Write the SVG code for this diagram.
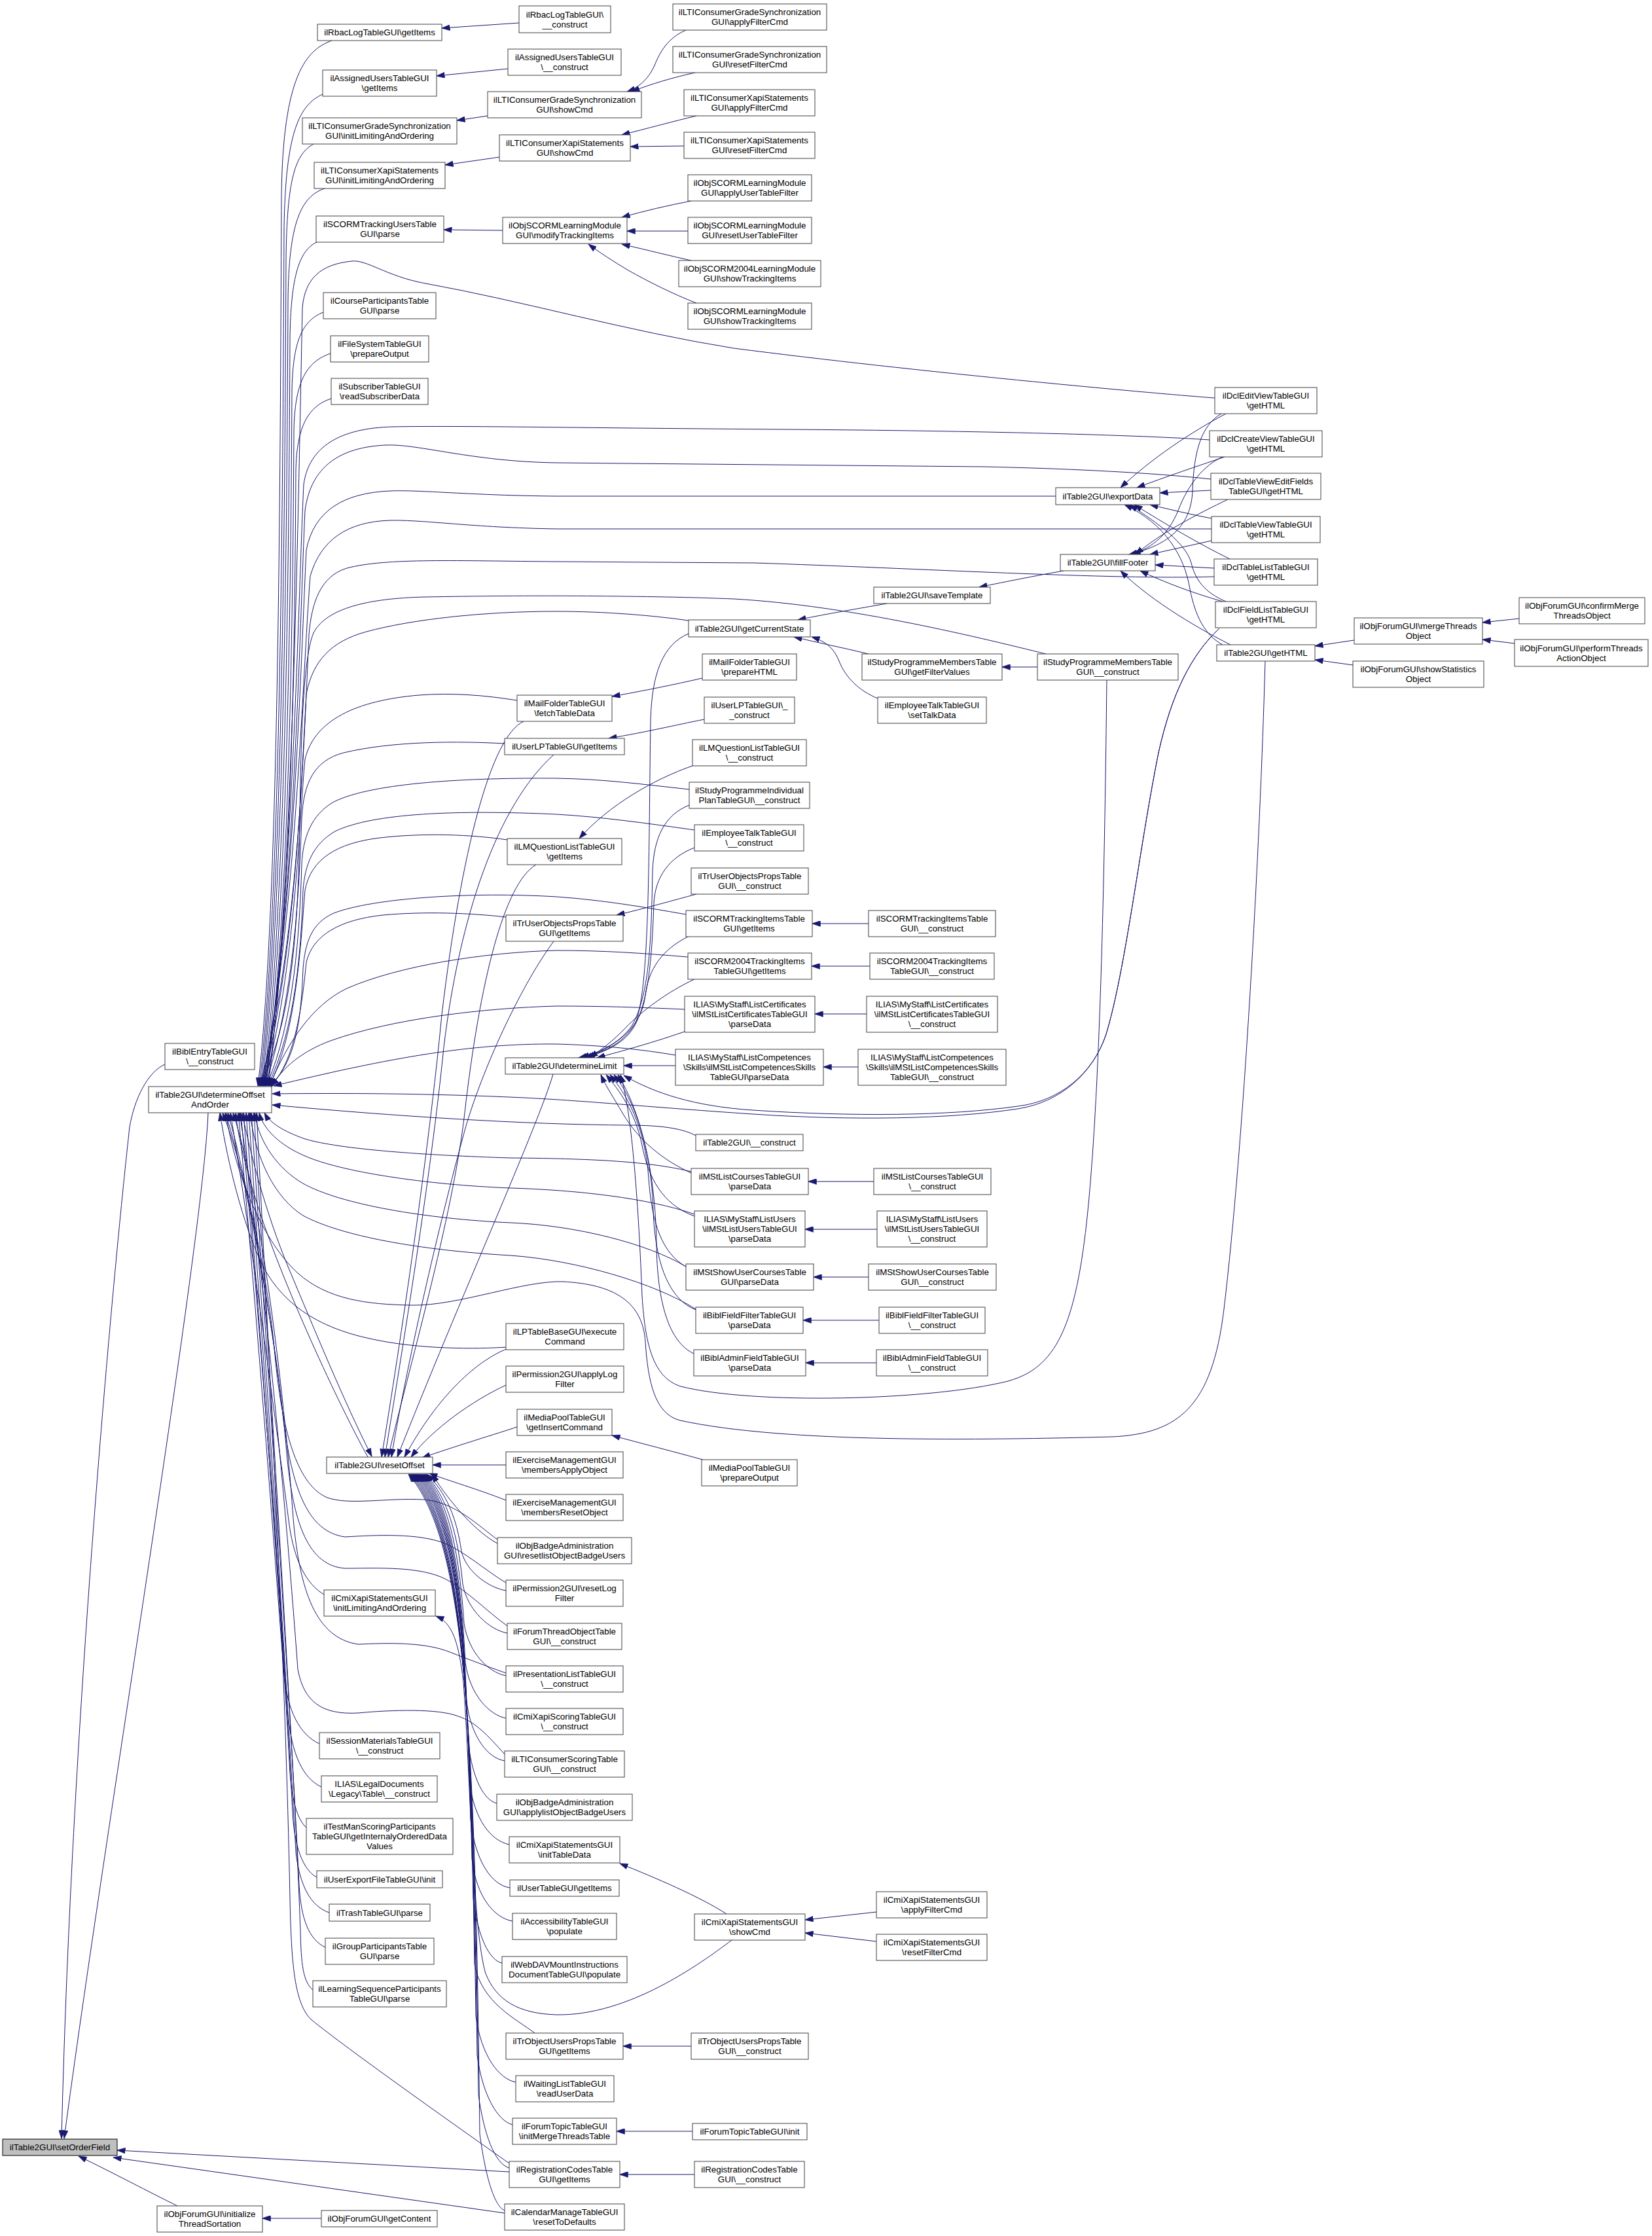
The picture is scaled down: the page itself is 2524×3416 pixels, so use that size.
<svg xmlns="http://www.w3.org/2000/svg" width="2524" height="3416" viewBox="0 0 2524 3416">
<style>
.n rect{fill:#fff;stroke:#404040;stroke-width:1}
.n text{font-family:"Liberation Sans",Arial,Helvetica,sans-serif;font-size:13.33px;text-anchor:middle;fill:#000}
#edges path{fill:none;stroke:#191970;stroke-width:1;marker-end:url(#ah)}
</style>
<defs>
<marker id="ah" viewBox="0 0 13 9" markerWidth="13" markerHeight="9" refX="12.5" refY="4.5" orient="auto" markerUnits="userSpaceOnUse"><path d="M0,0 L13,4.5 L0,9 z" fill="#191970" stroke="#191970" stroke-width="0.5"/></marker>
</defs>
<rect width="2524" height="3416" fill="#fff"/>
<g id="edges">
<path d="M252,1626 C225,1638 205,1680 198,1722 C178,1900 110,2600 94,3267"/>
<path d="M318,1700 C310,1900 160,2800 98,3267"/>
<path d="M271,3370 C230,3350 170,3318 120,3294"/>
<path d="M778,3318 L179,3285"/>
<path d="M771,3381 L173,3296"/>
<path d="M491,3389 L401,3389"/>
<path d="M507,62 C468,76 432,115 430,300 C428,800 425,1400 394,1659"/>
<path d="M493,144 C458,160 436,200 434,350 C432,800 428,1400 396,1659"/>
<path d="M479,220 C452,235 438,270 437,400 C435,850 430,1400 398,1659"/>
<path d="M496,288 C460,300 441,340 440,460 C438,900 432,1400 400,1659"/>
<path d="M484,370 C458,382 444,420 443,520 C441,950 434,1420 402,1659"/>
<path d="M494,477 C462,490 447,520 446,600 C444,1000 436,1430 404,1659"/>
<path d="M505,540 C470,552 450,580 449,660 C447,1050 438,1440 406,1659"/>
<path d="M506,609 C472,620 453,650 452,720 C450,1100 440,1450 408,1659"/>
<path d="M1856,608 C1750,600 1400,568 1121,532 C958,506 800,460 650,433 C590,422 560,396 537,399 C490,404 466,425 462,470 C456,750 448,1350 410,1659"/>
<path d="M1848,672 C1750,665 1500,658 1200,656 C900,654 700,650 600,652 C520,654 472,682 464,740 C456,900 448,1380 405,1659"/>
<path d="M1850,732 C1780,724 1650,716 1500,713 L850,707 C720,705 640,678 590,680 C520,683 475,712 466,780 C458,950 450,1400 403,1659"/>
<path d="M1613,758 L850,758 C720,757 640,748 596,750 C525,753 480,780 468,840 C460,1000 450,1400 401,1659"/>
<path d="M1851,808 L850,808 C720,806 650,794 596,795 C530,797 490,825 474,880 C462,1030 452,1420 399,1659"/>
<path d="M1855,881 C1700,886 1400,868 1153,860 L850,858 C700,857 590,852 530,868 C490,880 476,920 472,970 C464,1150 454,1450 397,1659"/>
<path d="M1598,999 C1500,975 1300,925 1121,915 C1000,910 800,909 650,912 C560,914 500,930 480,965 C465,995 460,1100 458,1250 C456,1450 440,1580 395,1659"/>
<path d="M1058,949 C1000,940 920,934 850,934 C740,934 630,946 560,965 C505,980 478,1010 468,1060 C460,1200 452,1450 401,1659"/>
<path d="M790,1070 C740,1062 690,1058 640,1062 C545,1070 480,1100 466,1160 C457,1250 452,1480 403,1659"/>
<path d="M771,1136 C700,1132 600,1132 525,1150 C480,1162 464,1195 461,1250 C457,1360 450,1520 405,1659"/>
<path d="M1053,1206 C980,1198 920,1190 850,1189 C720,1188 570,1195 510,1225 C475,1245 463,1280 461,1320 C458,1420 450,1560 407,1659"/>
<path d="M1061,1268 C990,1258 920,1248 850,1244 C700,1237 570,1242 512,1270 C478,1290 466,1320 463,1360 C460,1450 452,1570 409,1659"/>
<path d="M775,1283 C720,1275 650,1272 580,1280 C515,1288 475,1312 466,1360 C460,1430 454,1580 411,1659"/>
<path d="M1048,1397 C980,1385 920,1375 850,1370 C720,1362 570,1372 510,1395 C476,1410 466,1440 463,1480 C460,1560 452,1620 413,1659"/>
<path d="M773,1401 C720,1395 650,1392 585,1398 C520,1405 478,1428 468,1470 C462,1530 452,1620 414,1659"/>
<path d="M1051,1462 C980,1456 920,1452 850,1452 C740,1455 610,1475 530,1510 C478,1535 440,1590 412,1659"/>
<path d="M1046,1542 C980,1539 920,1537 850,1537 C740,1540 600,1556 505,1590 C462,1606 432,1630 414,1661"/>
<path d="M1032,1612 C980,1603 920,1597 850,1595 C720,1594 600,1615 418,1659"/>
<path d="M1065,1736 C1045,1724 1010,1719 960,1719 C800,1718 600,1705 416,1688"/>
<path d="M1863,960 C1820,1000 1790,1060 1770,1150 C1740,1300 1720,1480 1690,1580 C1670,1640 1620,1684 1555,1694 C1450,1710 1300,1712 1150,1702 C1000,1692 900,1682 800,1677 C650,1670 520,1670 416,1671"/>
<path d="M1056,1790 C1000,1776 920,1770 780,1769 C650,1765 520,1756 466,1740 C432,1728 412,1715 404,1700"/>
<path d="M1061,1855 C990,1830 880,1818 780,1815 C650,1810 520,1790 466,1766 C428,1750 402,1725 396,1700"/>
<path d="M1048,1935 C990,1900 880,1872 780,1868 C650,1862 520,1840 463,1808 C425,1786 395,1745 389,1700"/>
<path d="M1063,2000 C1000,1960 880,1925 780,1918 C640,1910 520,1888 463,1857 C420,1830 390,1770 382,1700"/>
<path d="M1933,1010 C1925,1300 1900,1750 1870,2000 C1852,2150 1800,2190 1700,2195 C1500,2200 1200,2205 1039,2170 C1000,2160 990,2110 986,2050 C982,1990 940,1962 860,1958 C800,1956 700,1995 630,1994 C560,1993 500,1985 455,1945 C405,1900 360,1800 345,1700"/>
<path d="M775,2058 C730,2061 640,2062 565,2045 C485,2028 425,1990 395,1920 C365,1850 345,1760 336,1700"/>
<path d="M562,2226 C520,2150 430,1960 390,1830 C375,1780 364,1740 360,1700"/>
<path d="M370,1700 C382,1760 405,1850 440,1935 C480,2030 525,2140 568,2225"/>
<path d="M495,2436 C468,2420 450,2385 442,2330 C425,2200 385,1900 352,1700"/>
<path d="M488,2664 C458,2650 440,2615 434,2560 C420,2380 392,2000 364,1700"/>
<path d="M491,2730 C462,2716 446,2680 440,2620 C428,2440 398,2040 368,1700"/>
<path d="M468,2792 C452,2778 444,2740 442,2690 C432,2500 402,2100 372,1700"/>
<path d="M484,2868 C462,2856 450,2820 447,2770 C436,2550 406,2120 376,1700"/>
<path d="M503,2922 C474,2912 458,2880 452,2830 C440,2600 410,2140 380,1700"/>
<path d="M497,2975 C472,2963 460,2932 457,2880 C446,2650 414,2160 384,1700"/>
<path d="M478,3040 C463,3028 460,3000 459,2950 C450,2700 418,2200 388,1700"/>
<path d="M778,3305 C700,3250 530,3130 475,3085 C450,3060 445,3000 443,2900 C436,2550 415,2150 392,1700"/>
<path d="M760,2352 C732,2332 695,2294 647,2291 C590,2288 535,2300 500,2288 C458,2270 432,2200 420,2070 C408,1930 365,1760 340,1700"/>
<path d="M773,2418 C740,2398 712,2372 680,2358 C640,2342 575,2345 527,2348 C472,2340 446,2280 432,2160 C418,2020 372,1780 344,1700"/>
<path d="M775,2484 C742,2460 716,2432 682,2413 C642,2392 575,2396 527,2396 C472,2392 448,2330 438,2220 C425,2060 378,1800 348,1700"/>
<path d="M773,2556 C742,2545 716,2535 690,2525 C650,2508 592,2510 547,2512 C482,2502 458,2430 448,2320 C434,2120 396,1820 356,1700"/>
<path d="M771,2680 C746,2652 726,2630 700,2622 C670,2610 600,2612 547,2617 C492,2620 464,2600 455,2550 C444,2400 412,2000 366,1700"/>
<path d="M800,1102 C750,1125 705,1300 675,1550 C655,1760 612,2050 583,2226"/>
<path d="M846,1153 C760,1230 702,1400 678,1600 C658,1800 615,2060 588,2226"/>
<path d="M819,1321 C770,1350 733,1500 710,1700 C692,1860 622,2100 593,2226"/>
<path d="M846,1438 C800,1500 742,1620 712,1720 C676,1850 624,2070 598,2226"/>
<path d="M845,1641 C822,1720 702,1985 607,2226"/>
<path d="M776,2060 C730,2078 670,2130 618,2226"/>
<path d="M773,2116 C722,2140 662,2182 628,2226"/>
<path d="M790,2180 C760,2190 700,2208 645,2227"/>
<path d="M773,2238 L661,2238"/>
<path d="M773,2292 C730,2275 685,2262 656,2251"/>
<path d="M760,2358 C730,2342 690,2300 660,2252"/>
<path d="M773,2430 C745,2425 712,2400 705,2370 C698,2320 682,2280 652,2252"/>
<path d="M775,2495 C748,2490 714,2460 707,2420 C700,2350 686,2290 650,2252"/>
<path d="M773,2560 C746,2555 716,2525 709,2480 C702,2380 688,2295 648,2252"/>
<path d="M773,2625 C748,2620 718,2590 711,2540 C704,2410 690,2300 646,2252"/>
<path d="M771,2690 C746,2686 720,2655 713,2600 C706,2430 692,2305 644,2252"/>
<path d="M759,2755 C740,2750 722,2720 715,2660 C708,2450 694,2310 642,2252"/>
<path d="M778,2818 C750,2812 724,2780 717,2720 C710,2470 696,2315 640,2252"/>
<path d="M779,2884 C752,2880 726,2845 719,2780 C712,2490 698,2320 638,2252"/>
<path d="M783,2935 C756,2930 728,2900 721,2840 C714,2510 700,2325 636,2252"/>
<path d="M767,2999 C748,2995 730,2960 723,2900 C716,2530 702,2330 634,2252"/>
<path d="M817,3106 C790,3085 735,3060 725,3000 C718,2560 704,2335 632,2252"/>
<path d="M788,3181 C762,3176 735,3140 727,3080 C720,2580 706,2340 630,2252"/>
<path d="M783,3246 C760,3240 737,3200 729,3140 C722,2600 708,2345 628,2252"/>
<path d="M778,3312 C756,3306 739,3260 731,3200 C724,2620 710,2350 626,2252"/>
<path d="M771,3377 C754,3370 741,3320 733,3260 C726,2640 712,2355 624,2252"/>
<path d="M793,35 L675,43"/>
<path d="M776,105 L667,116"/>
<path d="M745,177 L698,184"/>
<path d="M763,240 L680,252"/>
<path d="M768,352 L678,351"/>
<path d="M1048,46 C1020,58 1008,80 1000,100 C990,122 975,134 958,140"/>
<path d="M1062,111 C1030,118 995,128 965,140"/>
<path d="M1064,177 C1030,185 990,196 950,206"/>
<path d="M1045,223 L963,224"/>
<path d="M1056,307 C1020,314 985,322 950,332"/>
<path d="M1051,353 L958,353"/>
<path d="M1056,398 C1020,390 985,381 950,373"/>
<path d="M1064,463 C1030,450 990,430 960,413 C935,398 915,385 899,373"/>
<path d="M1073,1036 C1030,1046 980,1056 935,1064"/>
<path d="M1076,1099 C1030,1108 990,1118 930,1128"/>
<path d="M1058,1170 C1000,1190 930,1230 885,1281"/>
<path d="M1064,1366 C1030,1375 985,1388 942,1398"/>
<path d="M1327,1411 L1241,1411"/>
<path d="M1329,1476 L1240,1476"/>
<path d="M1324,1549 L1245,1549"/>
<path d="M1311,1630 L1258,1630"/>
<path d="M1335,1805 L1235,1805"/>
<path d="M1340,1878 L1230,1878"/>
<path d="M1327,1951 L1243,1951"/>
<path d="M1343,2017 L1227,2017"/>
<path d="M1339,2082 L1231,2082"/>
<path d="M1074,2230 C1030,2218 980,2205 935,2193"/>
<path d="M1110,2924 C1070,2898 1000,2868 947,2847"/>
<path d="M1118,2964 C1070,3000 960,3080 850,3078 C790,3076 758,3055 742,3015 C722,2950 718,2700 708,2570 C700,2500 688,2478 666,2469"/>
<path d="M1339,2921 L1230,2933"/>
<path d="M1339,2966 L1230,2953"/>
<path d="M1056,3126 L952,3126"/>
<path d="M1058,3256 L942,3256"/>
<path d="M1061,3322 L947,3322"/>
<path d="M1355,922 C1310,930 1262,938 1219,947"/>
<path d="M1327,999 C1290,990 1250,982 1213,973"/>
<path d="M1341,1067 C1312,1055 1292,1035 1282,1010 C1274,990 1262,980 1240,973"/>
<path d="M1625,872 C1580,880 1540,888 1496,897"/>
<path d="M1585,1019 L1531,1019"/>
<path d="M1052,968 C1012,985 996,1030 994,1100 C991,1300 993,1500 972,1560 C952,1600 912,1610 884,1616"/>
<path d="M1053,1230 C1015,1245 999,1280 997,1330 C995,1450 991,1520 966,1566 C946,1596 912,1608 888,1616"/>
<path d="M1061,1295 C1022,1310 1001,1340 999,1380 C996,1470 990,1532 968,1570 C950,1598 918,1609 892,1616"/>
<path d="M1053,1430 C1012,1450 991,1480 986,1520 C981,1560 958,1590 896,1616"/>
<path d="M1061,1496 C1020,1515 980,1545 956,1570 C937,1590 918,1604 901,1616"/>
<path d="M1046,1576 C1000,1592 950,1606 912,1616"/>
<path d="M1032,1628 L953,1628"/>
<path d="M1863,960 C1820,1000 1790,1060 1770,1150 C1740,1300 1720,1480 1690,1580 C1670,1640 1620,1682 1555,1690 C1450,1705 1300,1706 1150,1696 C1060,1690 1000,1670 953,1643"/>
<path d="M1691,1039 C1688,1300 1682,1650 1662,1850 C1644,2030 1612,2090 1540,2110 C1420,2140 1150,2146 1040,2118 C1000,2105 986,2060 981,1980 C976,1850 966,1700 948,1642"/>
<path d="M1056,1792 C1012,1772 976,1742 952,1702 C937,1676 926,1660 918,1642"/>
<path d="M1061,1858 C1012,1840 991,1800 981,1750 C971,1700 946,1665 926,1642"/>
<path d="M1048,1935 C1012,1915 996,1870 991,1800 C986,1720 956,1670 932,1642"/>
<path d="M1063,2001 C1022,1985 1001,1930 998,1850 C995,1740 962,1670 938,1642"/>
<path d="M1060,2068 C1022,2050 1004,1990 1003,1900 C1001,1760 966,1676 944,1642"/>
<path d="M1873,632 C1820,660 1760,700 1712,745"/>
<path d="M1871,698 C1830,712 1782,728 1737,745"/>
<path d="M1850,749 L1772,753"/>
<path d="M1851,792 C1820,786 1790,779 1757,771"/>
<path d="M1879,854 C1830,830 1780,800 1733,771"/>
<path d="M1873,919 C1840,905 1826,885 1820,860 C1812,830 1770,800 1726,771"/>
<path d="M1868,985 C1840,970 1826,940 1818,900 C1810,850 1780,800 1718,771"/>
<path d="M1866,632 C1835,650 1824,690 1822,750 C1820,800 1790,832 1725,847"/>
<path d="M1868,698 C1840,710 1815,740 1800,780 C1786,815 1762,836 1730,847"/>
<path d="M1876,763 C1830,785 1772,815 1735,847"/>
<path d="M1851,826 L1757,847"/>
<path d="M1855,868 L1765,863"/>
<path d="M1868,919 C1820,905 1780,890 1742,872"/>
<path d="M1880,985 C1840,965 1760,920 1712,872"/>
<path d="M2069,978 L2009,987"/>
<path d="M2067,1016 L2009,1008"/>
<path d="M2321,945 L2265,951"/>
<path d="M2314,983 L2265,977"/>
</g>
<g id="nodes">
<g id="n_setOrderField" class="n"><rect x="4" y="3268" width="175" height="25" style="fill:#bfbfbf;stroke:#000"/><text x="91.5" y="3285">ilTable2GUI\setOrderField</text></g>
<g id="n_bibl" class="n"><rect x="252" y="1594" width="137" height="40"/><text x="320.5" y="1611">ilBiblEntryTableGUI</text><text x="320.5" y="1626">\__construct</text></g>
<g id="n_det" class="n"><rect x="227" y="1660" width="188" height="40"/><text x="321" y="1677">ilTable2GUI\determineOffset</text><text x="321" y="1692">AndOrder</text></g>
<g id="n_init" class="n"><rect x="240" y="3370" width="161" height="40"/><text x="320.5" y="3387">ilObjForumGUI\initialize</text><text x="320.5" y="3402">ThreadSortation</text></g>
<g id="n_rbacget" class="n"><rect x="485" y="37" width="190" height="25"/><text x="580" y="54">ilRbacLogTableGUI\getItems</text></g>
<g id="n_assget" class="n"><rect x="493" y="107" width="174" height="40"/><text x="580" y="124">ilAssignedUsersTableGUI</text><text x="580" y="139">\getItems</text></g>
<g id="n_gsinit" class="n"><rect x="462" y="180" width="236" height="40"/><text x="580" y="197">ilLTIConsumerGradeSynchronization</text><text x="580" y="212">GUI\initLimitingAndOrdering</text></g>
<g id="n_xinit" class="n"><rect x="480" y="248" width="200" height="40"/><text x="580" y="265">ilLTIConsumerXapiStatements</text><text x="580" y="280">GUI\initLimitingAndOrdering</text></g>
<g id="n_scormparse" class="n"><rect x="483" y="330" width="195" height="40"/><text x="580.5" y="347">ilSCORMTrackingUsersTable</text><text x="580.5" y="362">GUI\parse</text></g>
<g id="n_course" class="n"><rect x="494" y="447" width="172" height="40"/><text x="580" y="464">ilCourseParticipantsTable</text><text x="580" y="479">GUI\parse</text></g>
<g id="n_fs" class="n"><rect x="505" y="513" width="150" height="40"/><text x="580" y="530">ilFileSystemTableGUI</text><text x="580" y="545">\prepareOutput</text></g>
<g id="n_subs" class="n"><rect x="506" y="578" width="148" height="40"/><text x="580" y="595">ilSubscriberTableGUI</text><text x="580" y="610">\readSubscriberData</text></g>
<g id="n_reset" class="n"><rect x="499" y="2226" width="162" height="25"/><text x="580" y="2243">ilTable2GUI\resetOffset</text></g>
<g id="n_cmiinit" class="n"><rect x="495" y="2429" width="170" height="40"/><text x="580" y="2446">ilCmiXapiStatementsGUI</text><text x="580" y="2461">\initLimitingAndOrdering</text></g>
<g id="n_sess" class="n"><rect x="488" y="2647" width="184" height="40"/><text x="580" y="2664">ilSessionMaterialsTableGUI</text><text x="580" y="2679">\__construct</text></g>
<g id="n_legal" class="n"><rect x="491" y="2713" width="177" height="40"/><text x="579.5" y="2730">ILIAS\LegalDocuments</text><text x="579.5" y="2745">\Legacy\Table\__construct</text></g>
<g id="n_testman" class="n"><rect x="468" y="2778" width="224" height="55"/><text x="580" y="2795">ilTestManScoringParticipants</text><text x="580" y="2810">TableGUI\getInternalyOrderedData</text><text x="580" y="2825">Values</text></g>
<g id="n_uexp" class="n"><rect x="484" y="2858" width="192" height="26"/><text x="580" y="2875.5">ilUserExportFileTableGUI\init</text></g>
<g id="n_trash" class="n"><rect x="503" y="2909" width="154" height="26"/><text x="580" y="2926.5">ilTrashTableGUI\parse</text></g>
<g id="n_group" class="n"><rect x="497" y="2961" width="166" height="40"/><text x="580" y="2978">ilGroupParticipantsTable</text><text x="580" y="2993">GUI\parse</text></g>
<g id="n_lseq" class="n"><rect x="478" y="3026" width="204" height="40"/><text x="580" y="3043">ilLearningSequenceParticipants</text><text x="580" y="3058">TableGUI\parse</text></g>
<g id="n_getcontent" class="n"><rect x="491" y="3377" width="177" height="25"/><text x="579.5" y="3394">ilObjForumGUI\getContent</text></g>
<g id="n_rbaccon" class="n"><rect x="793" y="9" width="140" height="41"/><text x="863" y="26.5">ilRbacLogTableGUI\</text><text x="863" y="41.5">__construct</text></g>
<g id="n_asscon" class="n"><rect x="776" y="75" width="173" height="40"/><text x="862.5" y="92">ilAssignedUsersTableGUI</text><text x="862.5" y="107">\__construct</text></g>
<g id="n_gsshow" class="n"><rect x="745" y="140" width="235" height="40"/><text x="862.5" y="157">ilLTIConsumerGradeSynchronization</text><text x="862.5" y="172">GUI\showCmd</text></g>
<g id="n_xshow" class="n"><rect x="763" y="206" width="200" height="40"/><text x="863" y="223">ilLTIConsumerXapiStatements</text><text x="863" y="238">GUI\showCmd</text></g>
<g id="n_modify" class="n"><rect x="768" y="332" width="190" height="40"/><text x="863" y="349">ilObjSCORMLearningModule</text><text x="863" y="364">GUI\modifyTrackingItems</text></g>
<g id="n_mailfetch" class="n"><rect x="790" y="1062" width="145" height="40"/><text x="862.5" y="1079">ilMailFolderTableGUI</text><text x="862.5" y="1094">\fetchTableData</text></g>
<g id="n_ulpget" class="n"><rect x="771" y="1128" width="183" height="25"/><text x="862.5" y="1145">ilUserLPTableGUI\getItems</text></g>
<g id="n_lmqget" class="n"><rect x="775" y="1281" width="175" height="40"/><text x="862.5" y="1298">ilLMQuestionListTableGUI</text><text x="862.5" y="1313">\getItems</text></g>
<g id="n_truoget" class="n"><rect x="773" y="1398" width="179" height="40"/><text x="862.5" y="1415">ilTrUserObjectsPropsTable</text><text x="862.5" y="1430">GUI\getItems</text></g>
<g id="n_detlim" class="n"><rect x="772" y="1616" width="181" height="25"/><text x="862.5" y="1633">ilTable2GUI\determineLimit</text></g>
<g id="n_lpexec" class="n"><rect x="773" y="2022" width="180" height="40"/><text x="863" y="2039">ilLPTableBaseGUI\execute</text><text x="863" y="2054">Command</text></g>
<g id="n_permapply" class="n"><rect x="773" y="2087" width="180" height="40"/><text x="863" y="2104">ilPermission2GUI\applyLog</text><text x="863" y="2119">Filter</text></g>
<g id="n_mpget" class="n"><rect x="790" y="2153" width="145" height="40"/><text x="862.5" y="2170">ilMediaPoolTableGUI</text><text x="862.5" y="2185">\getInsertCommand</text></g>
<g id="n_exapply" class="n"><rect x="773" y="2218" width="179" height="40"/><text x="862.5" y="2235">ilExerciseManagementGUI</text><text x="862.5" y="2250">\membersApplyObject</text></g>
<g id="n_exreset" class="n"><rect x="773" y="2283" width="179" height="40"/><text x="862.5" y="2300">ilExerciseManagementGUI</text><text x="862.5" y="2315">\membersResetObject</text></g>
<g id="n_badgereset" class="n"><rect x="760" y="2349" width="205" height="40"/><text x="862.5" y="2366">ilObjBadgeAdministration</text><text x="862.5" y="2381">GUI\resetlistObjectBadgeUsers</text></g>
<g id="n_permreset" class="n"><rect x="773" y="2414" width="179" height="40"/><text x="862.5" y="2431">ilPermission2GUI\resetLog</text><text x="862.5" y="2446">Filter</text></g>
<g id="n_forumthread" class="n"><rect x="775" y="2480" width="175" height="40"/><text x="862.5" y="2497">ilForumThreadObjectTable</text><text x="862.5" y="2512">GUI\__construct</text></g>
<g id="n_preslist" class="n"><rect x="773" y="2545" width="179" height="40"/><text x="862.5" y="2562">ilPresentationListTableGUI</text><text x="862.5" y="2577">\__construct</text></g>
<g id="n_cmiscoring" class="n"><rect x="773" y="2610" width="179" height="40"/><text x="862.5" y="2627">ilCmiXapiScoringTableGUI</text><text x="862.5" y="2642">\__construct</text></g>
<g id="n_ltiscoring" class="n"><rect x="771" y="2675" width="183" height="40"/><text x="862.5" y="2692">ilLTIConsumerScoringTable</text><text x="862.5" y="2707">GUI\__construct</text></g>
<g id="n_badgeapply" class="n"><rect x="759" y="2741" width="207" height="40"/><text x="862.5" y="2758">ilObjBadgeAdministration</text><text x="862.5" y="2773">GUI\applylistObjectBadgeUsers</text></g>
<g id="n_cmitable" class="n"><rect x="778" y="2806" width="169" height="40"/><text x="862.5" y="2823">ilCmiXapiStatementsGUI</text><text x="862.5" y="2838">\initTableData</text></g>
<g id="n_usertable" class="n"><rect x="779" y="2872" width="167" height="25"/><text x="862.5" y="2889">ilUserTableGUI\getItems</text></g>
<g id="n_access" class="n"><rect x="783" y="2923" width="159" height="40"/><text x="862.5" y="2940">ilAccessibilityTableGUI</text><text x="862.5" y="2955">\populate</text></g>
<g id="n_webdav" class="n"><rect x="767" y="2989" width="191" height="40"/><text x="862.5" y="3006">ilWebDAVMountInstructions</text><text x="862.5" y="3021">DocumentTableGUI\populate</text></g>
<g id="n_troget" class="n"><rect x="773" y="3106" width="179" height="40"/><text x="862.5" y="3123">ilTrObjectUsersPropsTable</text><text x="862.5" y="3138">GUI\getItems</text></g>
<g id="n_waiting" class="n"><rect x="788" y="3171" width="150" height="40"/><text x="863" y="3188">ilWaitingListTableGUI</text><text x="863" y="3203">\readUserData</text></g>
<g id="n_forumtopic" class="n"><rect x="783" y="3236" width="159" height="40"/><text x="862.5" y="3253">ilForumTopicTableGUI</text><text x="862.5" y="3268">\initMergeThreadsTable</text></g>
<g id="n_regget" class="n"><rect x="778" y="3302" width="169" height="40"/><text x="862.5" y="3319">ilRegistrationCodesTable</text><text x="862.5" y="3334">GUI\getItems</text></g>
<g id="n_calendar" class="n"><rect x="771" y="3367" width="183" height="40"/><text x="862.5" y="3384">ilCalendarManageTableGUI</text><text x="862.5" y="3399">\resetToDefaults</text></g>
<g id="n_gsapply" class="n"><rect x="1028" y="6" width="235" height="40"/><text x="1145.5" y="23">ilLTIConsumerGradeSynchronization</text><text x="1145.5" y="38">GUI\applyFilterCmd</text></g>
<g id="n_gsresetf" class="n"><rect x="1028" y="71" width="235" height="40"/><text x="1145.5" y="88">ilLTIConsumerGradeSynchronization</text><text x="1145.5" y="103">GUI\resetFilterCmd</text></g>
<g id="n_xapply" class="n"><rect x="1045" y="137" width="200" height="40"/><text x="1145" y="154">ilLTIConsumerXapiStatements</text><text x="1145" y="169">GUI\applyFilterCmd</text></g>
<g id="n_xresetf" class="n"><rect x="1045" y="202" width="200" height="40"/><text x="1145" y="219">ilLTIConsumerXapiStatements</text><text x="1145" y="234">GUI\resetFilterCmd</text></g>
<g id="n_applyuser" class="n"><rect x="1051" y="267" width="189" height="40"/><text x="1145.5" y="284">ilObjSCORMLearningModule</text><text x="1145.5" y="299">GUI\applyUserTableFilter</text></g>
<g id="n_resetuser" class="n"><rect x="1051" y="332" width="189" height="40"/><text x="1145.5" y="349">ilObjSCORMLearningModule</text><text x="1145.5" y="364">GUI\resetUserTableFilter</text></g>
<g id="n_s2004show" class="n"><rect x="1037" y="398" width="217" height="40"/><text x="1145.5" y="415">ilObjSCORM2004LearningModule</text><text x="1145.5" y="430">GUI\showTrackingItems</text></g>
<g id="n_scormshow" class="n"><rect x="1051" y="463" width="189" height="40"/><text x="1145.5" y="480">ilObjSCORMLearningModule</text><text x="1145.5" y="495">GUI\showTrackingItems</text></g>
<g id="n_getcur" class="n"><rect x="1052" y="947" width="186" height="26"/><text x="1145" y="964.5">ilTable2GUI\getCurrentState</text></g>
<g id="n_mailprep" class="n"><rect x="1073" y="999" width="144" height="40"/><text x="1145" y="1016">ilMailFolderTableGUI</text><text x="1145" y="1031">\prepareHTML</text></g>
<g id="n_ulpcon" class="n"><rect x="1076" y="1065" width="138" height="40"/><text x="1145" y="1082">ilUserLPTableGUI\_</text><text x="1145" y="1097">_construct</text></g>
<g id="n_lmqcon" class="n"><rect x="1058" y="1130" width="174" height="40"/><text x="1145" y="1147">ilLMQuestionListTableGUI</text><text x="1145" y="1162">\__construct</text></g>
<g id="n_spindiv" class="n"><rect x="1053" y="1195" width="184" height="40"/><text x="1145" y="1212">ilStudyProgrammeIndividual</text><text x="1145" y="1227">PlanTableGUI\__construct</text></g>
<g id="n_etcon" class="n"><rect x="1061" y="1260" width="167" height="40"/><text x="1144.5" y="1277">ilEmployeeTalkTableGUI</text><text x="1144.5" y="1292">\__construct</text></g>
<g id="n_truocon" class="n"><rect x="1056" y="1326" width="179" height="40"/><text x="1145.5" y="1343">ilTrUserObjectsPropsTable</text><text x="1145.5" y="1358">GUI\__construct</text></g>
<g id="n_stiget" class="n"><rect x="1048" y="1391" width="193" height="40"/><text x="1144.5" y="1408">ilSCORMTrackingItemsTable</text><text x="1144.5" y="1423">GUI\getItems</text></g>
<g id="n_s04get" class="n"><rect x="1051" y="1456" width="189" height="40"/><text x="1145.5" y="1473">ilSCORM2004TrackingItems</text><text x="1145.5" y="1488">TableGUI\getItems</text></g>
<g id="n_certparse" class="n"><rect x="1046" y="1522" width="199" height="55"/><text x="1145.5" y="1539">ILIAS\MyStaff\ListCertificates</text><text x="1145.5" y="1554">\ilMStListCertificatesTableGUI</text><text x="1145.5" y="1569">\parseData</text></g>
<g id="n_compparse" class="n"><rect x="1032" y="1603" width="226" height="55"/><text x="1145" y="1620">ILIAS\MyStaff\ListCompetences</text><text x="1145" y="1635">\Skills\ilMStListCompetencesSkills</text><text x="1145" y="1650">TableGUI\parseData</text></g>
<g id="n_t2con" class="n"><rect x="1063" y="1733" width="164" height="25"/><text x="1145" y="1750">ilTable2GUI\__construct</text></g>
<g id="n_mstcparse" class="n"><rect x="1056" y="1785" width="179" height="40"/><text x="1145.5" y="1802">ilMStListCoursesTableGUI</text><text x="1145.5" y="1817">\parseData</text></g>
<g id="n_mstuparse" class="n"><rect x="1061" y="1850" width="169" height="55"/><text x="1145.5" y="1867">ILIAS\MyStaff\ListUsers</text><text x="1145.5" y="1882">\ilMStListUsersTableGUI</text><text x="1145.5" y="1897">\parseData</text></g>
<g id="n_mssuparse" class="n"><rect x="1048" y="1931" width="195" height="40"/><text x="1145.5" y="1948">ilMStShowUserCoursesTable</text><text x="1145.5" y="1963">GUI\parseData</text></g>
<g id="n_bffparse" class="n"><rect x="1063" y="1997" width="164" height="40"/><text x="1145" y="2014">ilBiblFieldFilterTableGUI</text><text x="1145" y="2029">\parseData</text></g>
<g id="n_bafparse" class="n"><rect x="1060" y="2062" width="171" height="40"/><text x="1145.5" y="2079">ilBiblAdminFieldTableGUI</text><text x="1145.5" y="2094">\parseData</text></g>
<g id="n_mpprep" class="n"><rect x="1072" y="2230" width="146" height="40"/><text x="1145" y="2247">ilMediaPoolTableGUI</text><text x="1145" y="2262">\prepareOutput</text></g>
<g id="n_cmishow" class="n"><rect x="1061" y="2924" width="169" height="40"/><text x="1145.5" y="2941">ilCmiXapiStatementsGUI</text><text x="1145.5" y="2956">\showCmd</text></g>
<g id="n_trocon" class="n"><rect x="1056" y="3106" width="179" height="40"/><text x="1145.5" y="3123">ilTrObjectUsersPropsTable</text><text x="1145.5" y="3138">GUI\__construct</text></g>
<g id="n_forumtinit" class="n"><rect x="1058" y="3244" width="175" height="25"/><text x="1145.5" y="3261">ilForumTopicTableGUI\init</text></g>
<g id="n_regcon" class="n"><rect x="1061" y="3302" width="168" height="40"/><text x="1145" y="3319">ilRegistrationCodesTable</text><text x="1145" y="3334">GUI\__construct</text></g>
<g id="n_savetpl" class="n"><rect x="1335" y="897" width="178" height="25"/><text x="1424" y="914">ilTable2GUI\saveTemplate</text></g>
<g id="n_spfilter" class="n"><rect x="1317" y="999" width="214" height="40"/><text x="1424" y="1016">ilStudyProgrammeMembersTable</text><text x="1424" y="1031">GUI\getFilterValues</text></g>
<g id="n_ettalk" class="n"><rect x="1341" y="1065" width="166" height="40"/><text x="1424" y="1082">ilEmployeeTalkTableGUI</text><text x="1424" y="1097">\setTalkData</text></g>
<g id="n_sticon" class="n"><rect x="1327" y="1391" width="194" height="40"/><text x="1424" y="1408">ilSCORMTrackingItemsTable</text><text x="1424" y="1423">GUI\__construct</text></g>
<g id="n_s04con" class="n"><rect x="1329" y="1456" width="190" height="40"/><text x="1424" y="1473">ilSCORM2004TrackingItems</text><text x="1424" y="1488">TableGUI\__construct</text></g>
<g id="n_certcon" class="n"><rect x="1324" y="1522" width="200" height="55"/><text x="1424" y="1539">ILIAS\MyStaff\ListCertificates</text><text x="1424" y="1554">\ilMStListCertificatesTableGUI</text><text x="1424" y="1569">\__construct</text></g>
<g id="n_compcon" class="n"><rect x="1311" y="1603" width="226" height="55"/><text x="1424" y="1620">ILIAS\MyStaff\ListCompetences</text><text x="1424" y="1635">\Skills\ilMStListCompetencesSkills</text><text x="1424" y="1650">TableGUI\__construct</text></g>
<g id="n_mstccon" class="n"><rect x="1335" y="1785" width="179" height="40"/><text x="1424.5" y="1802">ilMStListCoursesTableGUI</text><text x="1424.5" y="1817">\__construct</text></g>
<g id="n_mstucon" class="n"><rect x="1340" y="1850" width="168" height="55"/><text x="1424" y="1867">ILIAS\MyStaff\ListUsers</text><text x="1424" y="1882">\ilMStListUsersTableGUI</text><text x="1424" y="1897">\__construct</text></g>
<g id="n_mssucon" class="n"><rect x="1327" y="1931" width="195" height="40"/><text x="1424.5" y="1948">ilMStShowUserCoursesTable</text><text x="1424.5" y="1963">GUI\__construct</text></g>
<g id="n_bffcon" class="n"><rect x="1343" y="1997" width="162" height="40"/><text x="1424" y="2014">ilBiblFieldFilterTableGUI</text><text x="1424" y="2029">\__construct</text></g>
<g id="n_bafcon" class="n"><rect x="1339" y="2062" width="170" height="40"/><text x="1424" y="2079">ilBiblAdminFieldTableGUI</text><text x="1424" y="2094">\__construct</text></g>
<g id="n_cmiapply" class="n"><rect x="1339" y="2890" width="169" height="40"/><text x="1423.5" y="2907">ilCmiXapiStatementsGUI</text><text x="1423.5" y="2922">\applyFilterCmd</text></g>
<g id="n_cmiresetf" class="n"><rect x="1339" y="2955" width="169" height="40"/><text x="1423.5" y="2972">ilCmiXapiStatementsGUI</text><text x="1423.5" y="2987">\resetFilterCmd</text></g>
<g id="n_export" class="n"><rect x="1613" y="745" width="159" height="26"/><text x="1692.5" y="762.5">ilTable2GUI\exportData</text></g>
<g id="n_footer" class="n"><rect x="1620" y="847" width="145" height="25"/><text x="1692.5" y="864">ilTable2GUI\fillFooter</text></g>
<g id="n_spcon" class="n"><rect x="1585" y="999" width="215" height="40"/><text x="1692.5" y="1016">ilStudyProgrammeMembersTable</text><text x="1692.5" y="1031">GUI\__construct</text></g>
<g id="n_dcledit" class="n"><rect x="1856" y="592" width="156" height="40"/><text x="1934" y="609">ilDclEditViewTableGUI</text><text x="1934" y="624">\getHTML</text></g>
<g id="n_dclcreate" class="n"><rect x="1848" y="658" width="172" height="40"/><text x="1934" y="675">ilDclCreateViewTableGUI</text><text x="1934" y="690">\getHTML</text></g>
<g id="n_dcltvef" class="n"><rect x="1850" y="723" width="168" height="40"/><text x="1934" y="740">ilDclTableViewEditFields</text><text x="1934" y="755">TableGUI\getHTML</text></g>
<g id="n_dcltvt" class="n"><rect x="1851" y="789" width="166" height="40"/><text x="1934" y="806">ilDclTableViewTableGUI</text><text x="1934" y="821">\getHTML</text></g>
<g id="n_dcltl" class="n"><rect x="1855" y="854" width="158" height="40"/><text x="1934" y="871">ilDclTableListTableGUI</text><text x="1934" y="886">\getHTML</text></g>
<g id="n_dclfl" class="n"><rect x="1857" y="919" width="154" height="40"/><text x="1934" y="936">ilDclFieldListTableGUI</text><text x="1934" y="951">\getHTML</text></g>
<g id="n_gethtml" class="n"><rect x="1859" y="985" width="150" height="25"/><text x="1934" y="1002">ilTable2GUI\getHTML</text></g>
<g id="n_merge" class="n"><rect x="2069" y="944" width="196" height="40"/><text x="2167" y="961">ilObjForumGUI\mergeThreads</text><text x="2167" y="976">Object</text></g>
<g id="n_stats" class="n"><rect x="2067" y="1010" width="200" height="40"/><text x="2167" y="1027">ilObjForumGUI\showStatistics</text><text x="2167" y="1042">Object</text></g>
<g id="n_confirm" class="n"><rect x="2321" y="913" width="192" height="40"/><text x="2417" y="930">ilObjForumGUI\confirmMerge</text><text x="2417" y="945">ThreadsObject</text></g>
<g id="n_perform" class="n"><rect x="2314" y="977" width="204" height="41"/><text x="2416" y="994.5">ilObjForumGUI\performThreads</text><text x="2416" y="1009.5">ActionObject</text></g>
</g>
</svg>
